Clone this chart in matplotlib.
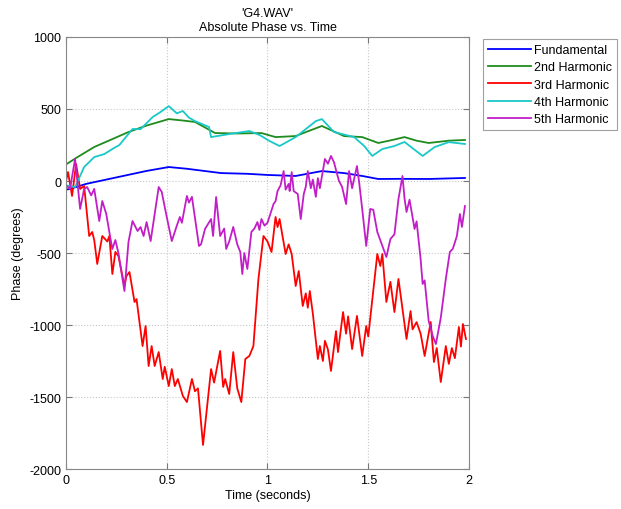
import numpy as np
import matplotlib.pyplot as plt

plt.rcParams['font.family'] = ['Liberation Sans', 'DejaVu Sans']
plt.rcParams['axes.unicode_minus'] = False

# phase traces, (time s, phase deg)
t_fund = [0.0, 0.02, 0.1, 0.2, 0.3, 0.4, 0.51, 0.6, 0.77, 0.9, 1.0, 1.14, 1.27, 1.38, 1.47, 1.55, 1.65, 1.8, 1.9, 1.98]
p_fund = [-60, -55, -20, 10, 40, 70, 97, 85, 55, 50, 42, 35, 69, 55, 35, 14, 15, 14, 18, 21]

t_h2 = [0.0, 0.05, 0.14, 0.22, 0.31, 0.4, 0.51, 0.58, 0.64, 0.74, 0.85, 0.97, 1.04, 1.14, 1.2, 1.27, 1.38, 1.47, 1.55, 1.62, 1.68, 1.74, 1.8, 1.9, 1.98]
p_h2 = [115, 160, 236, 285, 340, 385, 430, 420, 410, 333, 330, 333, 305, 312, 345, 382, 312, 305, 264, 285, 305, 280, 264, 280, 285]

t_h3 = [0.0, 0.01, 0.03, 0.05, 0.07, 0.09, 0.115, 0.13, 0.14, 0.155, 0.18, 0.205, 0.215, 0.23, 0.245, 0.26, 0.29, 0.3, 0.315,
        0.34, 0.35, 0.38, 0.395, 0.41, 0.425, 0.44, 0.46, 0.48, 0.49, 0.51, 0.525, 0.54, 0.555, 0.58, 0.6, 0.625, 0.64, 0.655,
        0.68, 0.72, 0.735, 0.765, 0.78, 0.79, 0.81, 0.83, 0.85, 0.87, 0.89, 0.91, 0.93, 0.955, 0.98, 1.0, 1.02, 1.04, 1.05,
        1.06, 1.09, 1.105, 1.12, 1.14, 1.155, 1.175, 1.19, 1.2, 1.21, 1.225, 1.25, 1.26, 1.275, 1.285, 1.3, 1.315, 1.34,
        1.35, 1.375, 1.39, 1.40, 1.42, 1.444, 1.47, 1.49, 1.50, 1.545, 1.56, 1.57, 1.59, 1.61, 1.63, 1.65, 1.69, 1.71, 1.72,
        1.74, 1.76, 1.78, 1.81, 1.826, 1.84, 1.86, 1.885, 1.90, 1.915, 1.93, 1.95, 1.96, 1.97, 1.985]
p_h3 = [0, 62, -104, 118, -55, -35, -382, -354, -410, -576, -382, -420, -382, -646, -493, -520, -729, -660, -632,
        -840, -820, -1146, -1007, -1285, -1146, -1285, -1188, -1375, -1290, -1424, -1306, -1424, -1375, -1493, -1535, -1375,
        -1460, -1440, -1833, -1306, -1400, -1180, -1430, -1375, -1479, -1188, -1440, -1535, -1236, -1215, -1146, -680, -382,
        -420, -493, -250, -320, -264, -507, -440, -507, -729, -625, -868, -780, -880, -764, -920, -1236, -1146, -1250, -1110,
        -1170, -1319, -1042, -1188, -910, -1060, -940, -1167, -937, -1215, -1007, -1080, -507, -590, -507, -840, -700, -910,
        -680, -1097, -903, -1030, -980, -1060, -1215, -979, -1257, -1160, -1396, -1146, -1270, -1160, -1230, -1014, -1150,
        -993, -1097]

t_h4 = [0.0, 0.045, 0.09, 0.14, 0.19, 0.23, 0.265, 0.33, 0.37, 0.43, 0.47, 0.51, 0.55, 0.58, 0.61, 0.64, 0.71, 0.72, 0.81,
        0.91, 0.96, 1.01, 1.06, 1.14, 1.24, 1.27, 1.33, 1.43, 1.48, 1.52, 1.57, 1.63, 1.68, 1.77, 1.83, 1.9, 1.98]
p_h4 = [-30, -42, 97, 166, 187, 222, 250, 361, 360, 444, 480, 520, 470, 486, 440, 416, 375, 305, 326,
        347, 320, 278, 243, 305, 416, 430, 340, 305, 243, 174, 222, 243, 271, 174, 236, 270, 257]

t_h5 = [0.0, 0.02, 0.045, 0.07, 0.09, 0.105, 0.125, 0.14, 0.165, 0.18, 0.2, 0.215, 0.23, 0.245, 0.26, 0.29, 0.31, 0.33,
        0.355, 0.37, 0.385, 0.40, 0.42, 0.46, 0.475, 0.50, 0.525, 0.55, 0.565, 0.575, 0.60, 0.61, 0.625, 0.66, 0.67,
        0.69, 0.72, 0.73, 0.745, 0.765, 0.785, 0.795, 0.81, 0.83, 0.85, 0.865, 0.875, 0.885, 0.90, 0.92, 0.935, 0.95,
        0.96, 0.97, 0.985, 1.0, 1.03, 1.04, 1.05, 1.065, 1.08, 1.09, 1.105, 1.11, 1.12, 1.13, 1.15, 1.165, 1.18, 1.19,
        1.20, 1.215, 1.225, 1.24, 1.25, 1.26, 1.285, 1.30, 1.315, 1.33, 1.345, 1.355, 1.37, 1.39, 1.405, 1.42, 1.444,
        1.455, 1.47, 1.49, 1.51, 1.525, 1.545, 1.57, 1.59, 1.61, 1.63, 1.65, 1.67, 1.68, 1.69, 1.705, 1.73, 1.74, 1.76,
        1.77, 1.78, 1.80, 1.82, 1.836, 1.86, 1.885, 1.905, 1.92, 1.94, 1.955, 1.965, 1.98]
p_h5 = [-30, -55, 153, -194, -55, -42, -100, -55, -278, -139, -230, -354, -472, -410, -500, -764, -424, -278,
        -347, -320, -382, -285, -417, -42, -76, -250, -417, -310, -250, -290, -104, -150, -110, -451, -440,
        -333, -264, -382, -111, -382, -330, -472, -420, -319, -440, -493, -646, -500, -611, -354, -330, -285,
        -340, -264, -310, -290, -160, -140, -69, -30, 69, -60, -20, -70, 62, -70, -90, -264, -90, -40, 69, -50,
        10, -110, 20, -50, 153, 120, 174, 130, 50, 0, -40, -160, 69, -50, 104, -10, -194, -451, -194, -200, -354,
        -450, -528, -403, -370, -125, 35, -120, -215, -130, -333, -280, -542, -715, -690, -972, -1076, -1132, -950,
        -680, -493, -470, -382, -229, -319, -174]

series = [
    ('Fundamental', t_fund, p_fund, '#0000ff'),
    ('2nd Harmonic', t_h2, p_h2, '#1e8c1e'),
    ('3rd Harmonic', t_h3, p_h3, '#ff0000'),
    ('4th Harmonic', t_h4, p_h4, '#19c8c8'),
    ('5th Harmonic', t_h5, p_h5, '#c21ec8'),
]

fig = plt.figure(figsize=(6.21, 5.10), dpi=100)
ax = fig.add_axes([0.1063, 0.0784, 0.6489, 0.8471])

for name, t, p, c in series:
    ax.plot(t, p, color=c, lw=1.3, label=name)

ax.set_xlim(0, 2)
ax.set_ylim(-2000, 1000)
ax.set_xticks([0, 0.5, 1, 1.5, 2])
ax.set_xticklabels(['0', '0.5', '1', '1.5', '2'])
ax.set_yticks(np.arange(-2000, 1001, 500))
ax.grid(True, ls=':', color='#c8c8c8', lw=0.8)
ax.tick_params(direction='in', top=True, right=True, labelsize=9, length=4, color='#777777')
for s in ax.spines.values():
    s.set_color('#888888')

ax.set_xlabel('Time (seconds)', fontsize=9, labelpad=2)
ax.set_ylabel('Phase (degrees)', fontsize=9, labelpad=4)
ax.set_title("'G4.WAV'\nAbsolute Phase vs. Time", fontsize=9, linespacing=1.2, pad=5)

leg = ax.legend(loc='upper left', bbox_to_anchor=(1.035, 0.995), fontsize=9, frameon=True,
                fancybox=False, edgecolor='#888888', handlelength=3.4, handletextpad=0.3,
                labelspacing=0.42, borderpad=0.4, borderaxespad=0)
leg.get_frame().set_linewidth(0.8)

fig.savefig('out.png', dpi=100)
